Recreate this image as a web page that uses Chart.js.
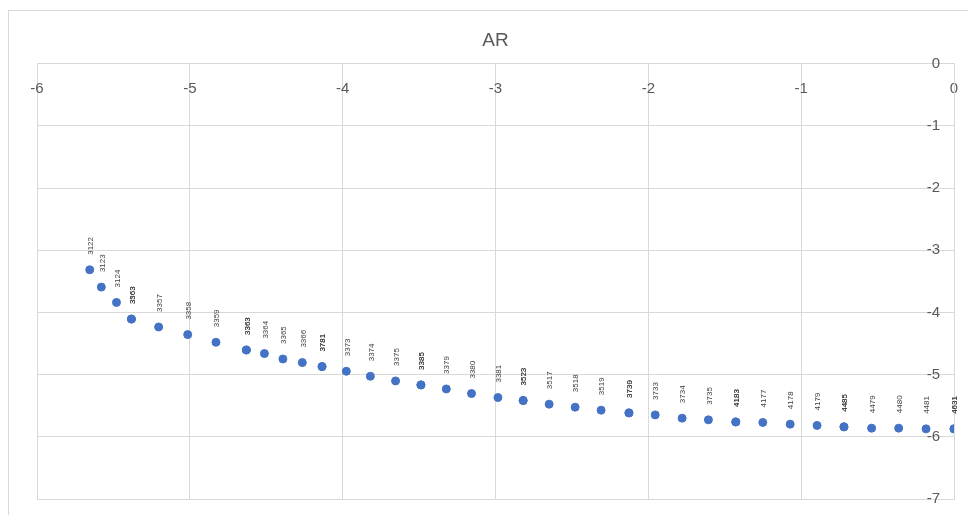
<!DOCTYPE html>
<html>
<head>
<meta charset="utf-8">
<script src="https://cdn.jsdelivr.net/npm/chart.js@4.4.1/dist/chart.umd.min.js"></script>
<style>
  html, body { margin: 0; padding: 0; background: #fff; }
  #wrap { width: 968px; height: 515px; }
</style>
</head>
<body>
<div id="wrap"><canvas id="chart-ar" width="968" height="515"></canvas></div>
<script>
// point values (x, y) and the id printed above each point
var xValues = [-5.655, -5.579, -5.480, -5.382, -5.382, -5.204, -5.014, -4.829, -4.630, -4.630,
    -4.512, -4.391, -4.264, -4.135, -4.135, -3.976, -3.819, -3.654, -3.488, -3.488,
    -3.322, -3.157, -2.984, -2.819, -2.819, -2.649, -2.479, -2.309, -2.127, -2.127,
    -1.955, -1.779, -1.607, -1.428, -1.428, -1.251, -1.072, -0.896, -0.720, -0.720,
    -0.539, -0.362, -0.183, 0, 0];
var yValues = [-3.313, -3.592, -3.838, -4.106, -4.106, -4.233, -4.356, -4.479, -4.603, -4.603,
    -4.661, -4.748, -4.806, -4.870, -4.870, -4.945, -5.026, -5.101, -5.165, -5.165,
    -5.230, -5.304, -5.368, -5.416, -5.416, -5.475, -5.523, -5.571, -5.615, -5.615,
    -5.647, -5.700, -5.727, -5.760, -5.760, -5.769, -5.796, -5.817, -5.839, -5.839,
    -5.861, -5.861, -5.872, -5.872, -5.872];
var pointLabels = ['3122', '3123', '3124', '3563', '3363', '3357', '3358', '3359', '3363', '3363',
    '3364', '3365', '3366', '3781', '3781', '3373', '3374', '3375', '3385', '3385',
    '3379', '3380', '3381', '3523', '3523', '3517', '3518', '3519', '3739', '3730',
    '3733', '3734', '3735', '4183', '4183', '4177', '4178', '4179', '4485', '4485',
    '4479', '4480', '4481', '4631', '4631'];

var xTicks = [-6, -5, -4, -3, -2, -1, 0];
var yTicks = [0, -1, -2, -3, -4, -5, -6, -7];

var points = [];
for (var i = 0; i < xValues.length; i++) {
    points.push({ x: xValues[i], y: yValues[i] });
}

var tickFont = '15px "Liberation Sans", sans-serif';

// scales sit inside the plot, so they should not push the plot in
function noOverflow(s) {
    s.paddingLeft = 0;
    s.paddingRight = 0;
    s.paddingTop = 0;
    s.paddingBottom = 0;
}

// frame round the chart, y tick labels left of the axis, rotated labels above the points
var frameAndLabels = {
    id: 'frameAndLabels',
    beforeDraw: function (chart) {
        var ctx = chart.ctx;
        ctx.save();
        ctx.strokeStyle = '#d9d9d9';
        ctx.lineWidth = 1;
        ctx.strokeRect(8.5, 10.5, 980, 530);
        ctx.restore();
    },
    afterDatasetsDraw: function (chart) {
        var ctx = chart.ctx;
        var yScale = chart.scales.y;
        var axisX = chart.scales.x.getPixelForValue(0);
        ctx.save();
        ctx.fillStyle = '#595959';
        ctx.font = tickFont;
        ctx.textAlign = 'right';
        ctx.textBaseline = 'middle';
        yScale.ticks.forEach(function (t) {
            ctx.fillText(String(t.value), axisX - 14, yScale.getPixelForValue(t.value));
        });
        ctx.restore();

        var meta = chart.getDatasetMeta(0);
        ctx.save();
        ctx.fillStyle = '#404040';
        ctx.font = '8px "Liberation Sans", sans-serif';
        ctx.textAlign = 'left';
        ctx.textBaseline = 'middle';
        meta.data.forEach(function (el, i) {
            ctx.save();
            ctx.translate(el.x + 1, el.y - 15);
            ctx.rotate(-Math.PI / 2);
            ctx.fillText(pointLabels[i], 0, 0);
            ctx.restore();
        });
        ctx.restore();
    }
};

var ctxAR = document.getElementById('chart-ar').getContext('2d');
var chartAR = new Chart(ctxAR, {
    type: 'scatter',
    data: {
        datasets: [{
            label: 'AR',
            data: points,
            backgroundColor: '#4472C4',
            borderColor: '#4472C4',
            pointRadius: 4,
            pointHoverRadius: 4
        }]
    },
    options: {
        responsive: false,
        animation: false,
        layout: { padding: { left: 37, right: 14, top: 10, bottom: 16 } },
        plugins: {
            legend: { display: false },
            tooltip: { enabled: false },
            title: {
                display: true,
                text: 'AR',
                color: '#595959',
                font: { family: '"Liberation Sans", sans-serif', size: 19, weight: 'normal' },
                padding: { top: 19, bottom: 12 }
            }
        },
        scales: {
            x: {
                type: 'linear',
                position: { y: 0 },
                min: -6,
                max: 0,
                afterBuildTicks: function (s) { s.ticks = xTicks.map(function (v) { return { value: v }; }); },
                afterFit: noOverflow,
                grid: { color: '#d9d9d9', drawTicks: false },
                border: { color: '#d9d9d9' },
                ticks: {
                    color: '#595959',
                    padding: 16,
                    font: { family: '"Liberation Sans", sans-serif', size: 15 }
                }
            },
            y: {
                type: 'linear',
                position: { x: 0 },
                min: -7,
                max: 0,
                afterBuildTicks: function (s) { s.ticks = yTicks.map(function (v) { return { value: v }; }); },
                afterFit: noOverflow,
                grid: { color: '#d9d9d9', drawTicks: false },
                border: { color: '#d9d9d9' },
                ticks: { display: false }
            }
        }
    },
    plugins: [frameAndLabels]
});
</script>
</body>
</html>
